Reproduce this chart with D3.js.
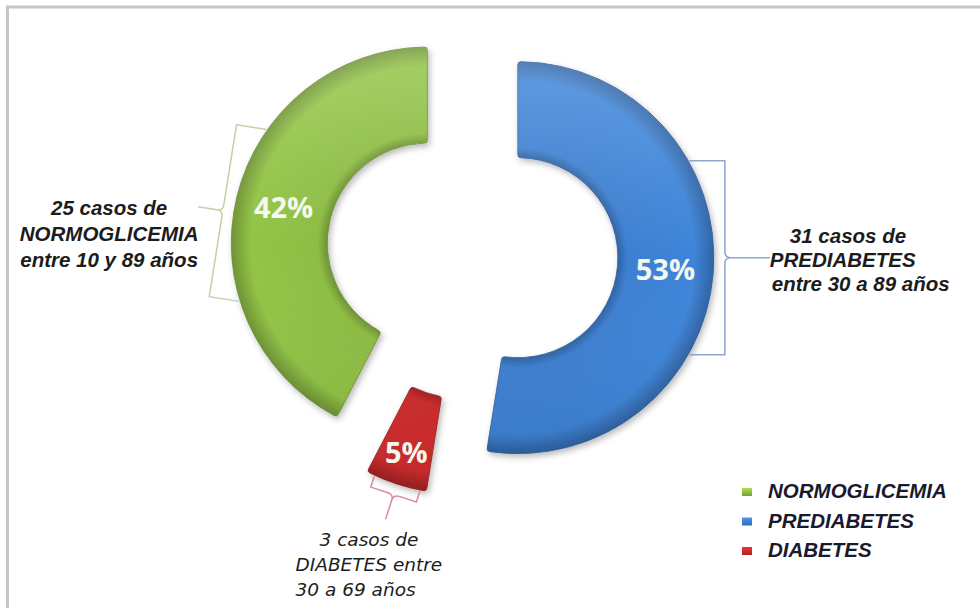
<!DOCTYPE html>
<html>
<head>
<meta charset="utf-8">
<script src="https://cdn.jsdelivr.net/npm/d3@7"></script>
<style>
  body { margin: 0; background: #fff; }
  svg { display: block; }
</style>
</head>
<body>
<script>
// Data: slices in the order Excel draws them (clockwise)
var categories = ["NORMOGLICEMIA", "PREDIABETES", "DIABETES"];
var casos = [25, 31, 3];
var calloutLines = [
  ["25 casos de", "NORMOGLICEMIA", "entre 10 y 89 años"],
  ["31 casos de", "PREDIABETES", "entre 30 a 89 años"],
  ["3 casos de", "DIABETES entre", "30 a 69 años"]
];

// Styles
var color = d3.scaleOrdinal()
    .domain(categories)
    .range(["#8dbd43", "#3c7fd1", "#cc2a2b"]);
var bracketColor = d3.scaleOrdinal()
    .domain(categories)
    .range(["#c6cfa6", "#8ea6cc", "#d98b9b"]);

// Layout of the callouts (bracket direction in degrees, half length, prong, text offsets from prong tip)
var callout = {
  NORMOGLICEMIA: { angle: 279, half: 87, prong: 25, labelR: 148, anchor: "middle", font: "bold",
                   lines: [[-89, 8], [-89, 34], [-89, 60]] },
  PREDIABETES:   { angle: 90, half: 97, prong: 45, labelR: 148, anchor: "start", font: "bold",
                   lines: [[20, -15], [0, 9], [2, 33]] },
  DIABETES:      { angle: 198, half: 24, prong: 26, labelR: 163, anchor: "start", font: "normal",
                   lines: [[-66, 27], [-90, 52], [-90, 77]] }
};

var width = 980, height = 608;
var cx = 472, cy = 254;         // centre of the doughnut
var outerR = 196, innerR = 100;
var explode = 46, gap = 11;

var total = d3.sum(casos);
var data = categories.map(function(c, i) { return { cat: c, value: casos[i], lines: calloutLines[i] }; });

// first slice ends exactly at 12 o'clock
var start = 2 * Math.PI - 2 * Math.PI * casos[0] / total;
var pie = d3.pie()
    .sort(null)
    .value(function(d) { return d.value; })
    .startAngle(start)
    .endAngle(start + 2 * Math.PI);

var arc = d3.arc()
    .innerRadius(innerR)
    .outerRadius(outerR)
    .cornerRadius(3);

var svg = d3.select("body").append("svg")
    .attr("width", width)
    .attr("height", height);

// frame
svg.append("rect")
    .attr("x", 7.5).attr("y", 7)
    .attr("width", 990).attr("height", 620)
    .attr("fill", "#fff")
    .attr("stroke", "#c6c6c6")
    .attr("stroke-width", 3);

var defs = svg.append("defs");

var shadow = defs.append("filter").attr("id", "shadow")
    .attr("x", "-20%").attr("y", "-20%").attr("width", "140%").attr("height", "140%");
shadow.append("feDropShadow")
    .attr("dx", 2).attr("dy", 3).attr("stdDeviation", 3)
    .attr("flood-color", "#000").attr("flood-opacity", 0.28);

// ring bevel + light from above
categories.forEach(function(c, i) {
  var base = d3.color(color(c));
  var g = defs.append("radialGradient").attr("id", "ring" + i)
      .attr("gradientUnits", "userSpaceOnUse")
      .attr("cx", 0).attr("cy", 0).attr("r", outerR);
  [[innerR / outerR, base.darker(0.7)],
   [innerR / outerR + 0.05, base],
   [0.9, base.brighter(0.1)],
   [1, base.darker(0.7)]].forEach(function(s) {
    g.append("stop").attr("offset", s[0]).attr("stop-color", s[1]);
  });

  var sq = defs.append("linearGradient").attr("id", "sq" + i)
      .attr("x1", 0).attr("y1", 0).attr("x2", 0).attr("y2", 1);
  sq.append("stop").attr("offset", 0).attr("stop-color", base.brighter(0.5));
  sq.append("stop").attr("offset", 1).attr("stop-color", base.darker(0.5));
});

var light = defs.append("linearGradient").attr("id", "light")
    .attr("gradientUnits", "userSpaceOnUse")
    .attr("x1", 0).attr("y1", -outerR).attr("x2", 0).attr("y2", outerR);
light.append("stop").attr("offset", 0).attr("stop-color", "#fff").attr("stop-opacity", 0.18);
light.append("stop").attr("offset", 0.5).attr("stop-color", "#fff").attr("stop-opacity", 0);
light.append("stop").attr("offset", 1).attr("stop-color", "#000").attr("stop-opacity", 0.08);

var arcs = pie(data);

// each slice pushed out along its middle angle
function sliceCenter(d) {
  var mid = (d.startAngle + d.endAngle) / 2;
  return [cx + explode * Math.sin(mid), cy - explode * Math.cos(mid)];
}

var slices = svg.selectAll(".slice")
    .data(arcs)
  .enter().append("g")
    .attr("class", "slice")
    .attr("transform", function(d) {
      var c = sliceCenter(d);
      return "translate(" + c[0] + "," + c[1] + ")";
    });

slices.append("path")
    .attr("d", arc)
    .attr("fill", function(d, i) { return "url(#ring" + i + ")"; })
    .attr("stroke", function(d) { return d3.color(color(d.data.cat)).darker(0.8); })
    .attr("stroke-width", 0.8)
    .attr("filter", "url(#shadow)");

slices.append("path")
    .attr("d", arc)
    .attr("fill", "url(#light)");

// percentage labels
slices.append("text")
    .attr("transform", function(d) {
      var mid = (d.startAngle + d.endAngle) / 2,
          r = callout[d.data.cat].labelR;
      return "translate(" + (r * Math.sin(mid)) + "," + (-r * Math.cos(mid)) + ")";
    })
    .attr("text-anchor", "middle")
    .attr("dy", "0.36em")
    .style("font-family", "'Open Sans', sans-serif")
    .style("font-weight", "bold")
    .style("font-size", "29px")
    .style("fill", "#f4f8ee")
    .text(function(d) { return Math.round(d.value / total * 100) + "%"; });

// brackets ({ shaped callout lines)
function bracket(d) {
  var c = sliceCenter(d), L = callout[d.data.cat];
  var a = L.angle * Math.PI / 180,
      ux = Math.sin(a), uy = -Math.cos(a),
      vx = Math.cos(a), vy = Math.sin(a);
  function pt(u, v) { return [c[0] + u * ux + v * vx, c[1] + u * uy + v * vy]; }
  var s = outerR + gap, h = L.half, t = Math.sqrt(outerR * outerR - h * h) + 1, k = 6;
  var p = d3.path(), q;
  q = pt(t, -h); p.moveTo(q[0], q[1]);
  q = pt(s, -h); p.lineTo(q[0], q[1]);
  q = pt(s, -k); p.lineTo(q[0], q[1]);
  var m = pt(s, 0), e = pt(s + k, 0);
  p.quadraticCurveTo(m[0], m[1], e[0], e[1]);
  q = pt(s + L.prong, 0); p.lineTo(q[0], q[1]);
  p.moveTo(e[0], e[1]);
  q = pt(s, k); p.quadraticCurveTo(m[0], m[1], q[0], q[1]);
  q = pt(s, h); p.lineTo(q[0], q[1]);
  q = pt(t, h); p.lineTo(q[0], q[1]);
  return { path: p.toString(), tip: pt(s + L.prong, 0) };
}

var notes = svg.selectAll(".note")
    .data(arcs)
  .enter().append("g")
    .attr("class", "note");

notes.append("path")
    .attr("d", function(d) { return bracket(d).path; })
    .attr("fill", "none")
    .attr("stroke", function(d) { return bracketColor(d.data.cat); })
    .attr("stroke-width", 1.5);

notes.each(function(d) {
  var L = callout[d.data.cat], tip = bracket(d).tip;
  var txt = d3.select(this).append("text")
      .attr("text-anchor", L.anchor)
      .style("font-style", "italic")
      .style("fill", "#1c1c1c");
  if (L.font === "bold") {
    txt.style("font-family", "'Liberation Sans', Arial, sans-serif")
       .style("font-weight", "bold")
       .style("font-size", "20.5px");
  } else {
    txt.style("font-family", "'DejaVu Sans', Verdana, sans-serif")
       .style("font-size", "18.5px");
  }
  d.data.lines.forEach(function(line, j) {
    txt.append("tspan")
        .attr("x", tip[0] + L.lines[j][0])
        .attr("y", tip[1] + L.lines[j][1])
        .text(line);
  });
});

// legend
var legend = svg.append("g")
    .attr("transform", "translate(742,488)");

var item = legend.selectAll(".item")
    .data(categories)
  .enter().append("g")
    .attr("class", "item")
    .attr("transform", function(d, i) { return "translate(0," + (i * 29.5) + ")"; });

item.append("rect")
    .attr("width", 10).attr("height", 8)
    .attr("fill", function(d, i) { return "url(#sq" + i + ")"; });

item.append("text")
    .attr("x", 26)
    .attr("y", 10)
    .style("font-family", "'Liberation Sans', Arial, sans-serif")
    .style("font-weight", "bold")
    .style("font-style", "italic")
    .style("font-size", "20.5px")
    .style("fill", "#1a1a2e")
    .text(function(d) { return d; });
</script>
</body>
</html>
